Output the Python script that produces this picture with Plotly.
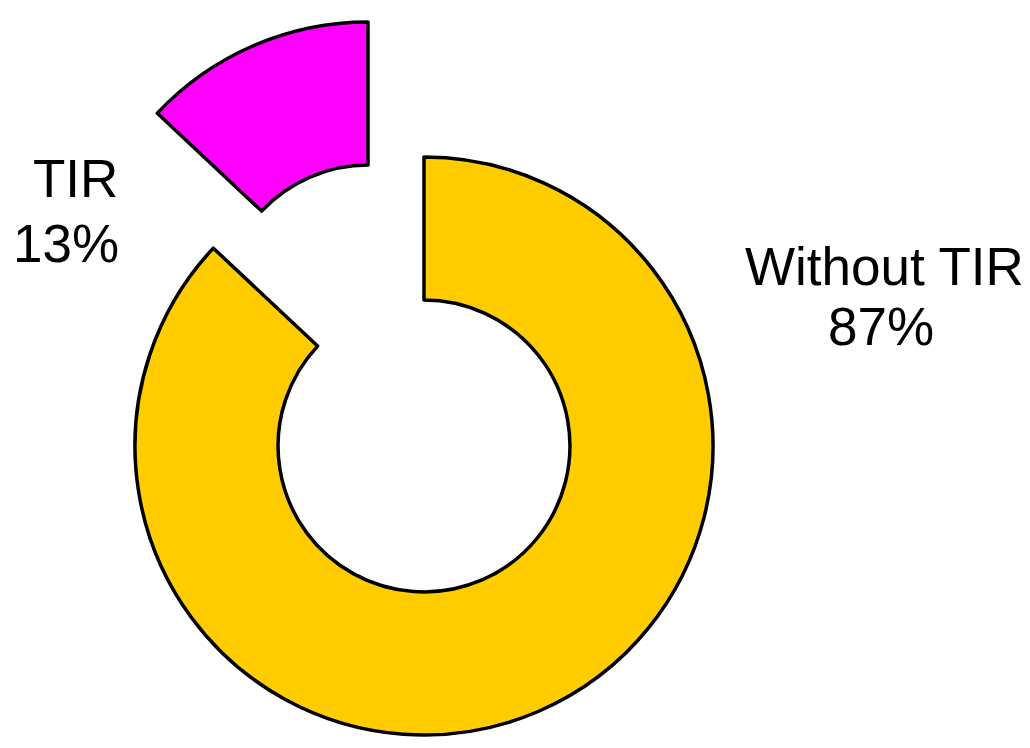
import plotly.graph_objects as go

# ---- data ----
labels = ["Without TIR", "TIR"]
values = [87, 13]
colors = ["#FFCC00", "#FF00FF"]

total = sum(values)
pcts = [round(100 * v / total) for v in values]

W, H = 1030, 748

def dom(cx, cy, r):
    return dict(x=[(cx - r) / W, (cx + r) / W], y=[1 - (cy + r) / H, 1 - (cy - r) / H])

R = 289
HOLE = 0.505
CLEAR = "rgba(0,0,0,0)"
LW = 3.5

fig = go.Figure()

# ring: "Without TIR" slice in place
fig.add_trace(go.Pie(
    labels=labels, values=values, sort=False, direction="clockwise", rotation=0,
    hole=HOLE, domain=dom(424, 446, R),
    marker=dict(colors=[colors[0], CLEAR], line=dict(color="black", width=[LW, 0])),
    textinfo="none", showlegend=False, hoverinfo="label+percent",
))
# exploded "TIR" slice
fig.add_trace(go.Pie(
    labels=labels, values=values, sort=False, direction="clockwise", rotation=0,
    hole=HOLE, domain=dom(368, 311, R),
    marker=dict(colors=[CLEAR, colors[1]], line=dict(color="black", width=[0, LW])),
    textinfo="none", showlegend=False, hoverinfo="label+percent",
))

font = dict(family="Liberation Sans, Arial, sans-serif", size=53, color="black")
label_pos = [((884, 266), (881, 326)), ((75, 178), (66, 243))]
ann = []
for lab, p, ((x1, y1), (x2, y2)) in zip(labels, pcts, label_pos):
    ann.append(dict(text=lab, x=x1 / W, y=1 - y1 / H, xref="paper", yref="paper",
                    xanchor="center", yanchor="middle", showarrow=False, font=font))
    ann.append(dict(text=f"{p}%", x=x2 / W, y=1 - y2 / H, xref="paper", yref="paper",
                    xanchor="center", yanchor="middle", showarrow=False, font=font))

fig.update_layout(
    width=W, height=H, margin=dict(l=0, r=0, t=0, b=0),
    paper_bgcolor="white", plot_bgcolor="white",
    annotations=ann,
)

fig.write_html("out.html")
